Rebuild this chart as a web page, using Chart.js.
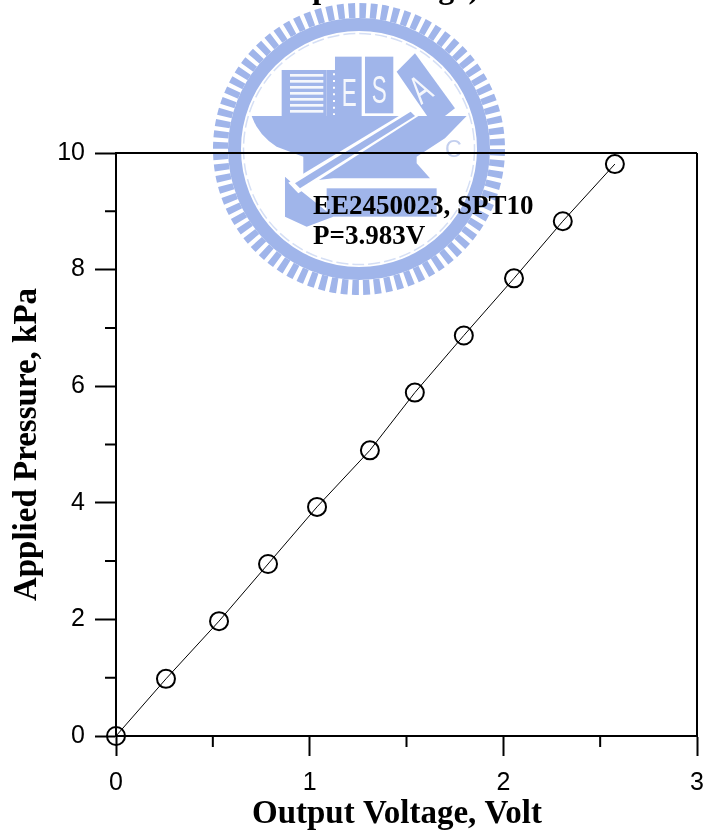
<!DOCTYPE html>
<html>
<head>
<meta charset="utf-8">
<style>
  html, body { margin: 0; padding: 0; background: #fff; overflow: hidden; }
  #wrap { position: relative; width: 706px; height: 834px; overflow: hidden; }
  #seal { position: absolute; left: 0; top: 0; filter: blur(0.5px); }
  #chart { position: absolute; left: 0; top: 0; }
</style>
<script src="https://cdn.jsdelivr.net/npm/chart.js@4/dist/chart.umd.min.js"></script>
</head>
<body>
<div id="wrap">
  <!-- 背景のウォーターマーク(校章) -->
  <svg id="seal" width="706" height="834" viewBox="0 0 706 834">
    <g fill="none" stroke="#a0b5ea">
      <circle cx="359" cy="149" r="138.5" stroke-width="15" stroke-dasharray="6.7 4.18"/>
      <circle cx="359" cy="149" r="124.5" stroke-width="13"/>
      <circle cx="359" cy="149" r="115.5" stroke-width="1.5" stroke="#d5dff5" stroke-dasharray="12 4"/>
    </g>
    <g transform="translate(200,0) scale(0.3333)" fill="#a0b5ea">
      <rect x="245" y="210" width="135" height="140"/>
      <g fill="#fff" opacity="0.9">
        <rect x="270" y="222" width="100" height="8"/>
        <rect x="270" y="240" width="100" height="8"/>
        <rect x="270" y="258" width="100" height="8"/>
        <rect x="270" y="276" width="100" height="8"/>
        <rect x="270" y="294" width="100" height="8"/>
        <rect x="270" y="312" width="100" height="8"/>
        <rect x="270" y="330" width="100" height="8"/>
      </g>
      <rect x="380" y="210" width="25" height="140"/>
      <line x1="402" y1="220" x2="402" y2="345" stroke="#fff" stroke-width="6" stroke-dasharray="6 14"/>
      <rect x="405" y="170" width="80" height="180"/>
      <rect x="495" y="170" width="85" height="170"/>
      <polygon points="590,215 645,160 765,325 700,375"/>
      <path d="M155,348 L800,348 L735,415 L650,470 L650,490 L690,535 L400,535 L310,545 L310,470 L230,440 Q175,405 155,348 Z"/>
      <polygon points="255,530 300,570 400,650 320,680 255,650"/>
      <rect x="380" y="565" width="330" height="85"/>
      <polygon points="640,322 660,345 295,580 265,548" fill="#fff"/>
      <polygon points="632,335 645,348 300,565 285,550"/>
      <g fill="#fff" font-family="'Liberation Sans'" font-size="118" opacity="0.9">
        <text x="425" y="318" textLength="45" lengthAdjust="spacingAndGlyphs">E</text>
        <text x="515" y="310" textLength="45" lengthAdjust="spacingAndGlyphs">S</text>
        <text x="645" y="305" transform="rotate(-35 670 280)" textLength="50" lengthAdjust="spacingAndGlyphs">A</text>
      </g>
      <text x="735" y="470" fill="#c3cfee" font-family="'Liberation Sans'" font-size="70">C</text>
    </g>
  </svg>
  <!-- 右余白が縮まらないのでcanvasを2px広げて右端を697に合わせる -->
  <canvas id="chart" width="708" height="834"></canvas>
</div>
<script>
// --- データ ---
const outputVoltage = [0, 0.258, 0.532, 0.785, 1.038, 1.311, 1.543, 1.796, 2.055, 2.307, 2.576];
const appliedPressure = [0, 0.98, 1.97, 2.95, 3.93, 4.90, 5.89, 6.87, 7.85, 8.83, 9.81];
const xMinorTicks = [0.5, 1.5, 2.5];
const yMinorTicks = [1, 3, 5, 7, 9];
const noteLines = ['EE2450023, SPT10', 'P=3.983V'];
const cutTitle = 'Output Voltage)';
const xAxisTitle = 'Output Voltage, Volt';

const SERIF = "'Liberation Serif'";
const SANS = "'Liberation Sans'";

// 枠線・副目盛・注記はプラグインで描く
const framePlugin = {
  id: 'frame',
  afterDatasetsDraw(chart) {
    const { ctx, chartArea: a, scales } = chart;
    ctx.save();
    ctx.strokeStyle = '#000';
    ctx.lineWidth = 2;
    ctx.beginPath();
    ctx.moveTo(a.left, a.top); ctx.lineTo(a.right, a.top);
    ctx.moveTo(a.right, a.top); ctx.lineTo(a.right, a.bottom);
    xMinorTicks.forEach(v => {
      const px = scales.x.getPixelForValue(v);
      ctx.moveTo(px, a.bottom); ctx.lineTo(px, a.bottom + 11);
    });
    yMinorTicks.forEach(v => {
      const py = scales.y.getPixelForValue(v);
      ctx.moveTo(a.left, py); ctx.lineTo(a.left - 11, py);
    });
    ctx.stroke();

    ctx.fillStyle = '#000';
    ctx.font = `bold 27px ${SERIF}`;
    ctx.fillText(noteLines[0], 313, 214);
    ctx.fillText(noteLines[1], 313, 244);

    // X軸タイトルは軸の中央より左寄りなので手で置く
    ctx.font = `bold 33px ${SERIF}`;
    ctx.fillText(xAxisTitle, 252, 823);

    // 上端で切れているタイトル
    ctx.font = `bold 32px ${SERIF}`;
    ctx.fillText(cutTitle, 259, -2);
    ctx.restore();
  }
};

new Chart(document.getElementById('chart'), {
  type: 'line',
  data: {
    labels: outputVoltage,
    datasets: [{
      data: outputVoltage.map((v, i) => ({ x: v, y: appliedPressure[i] })),
      borderColor: '#000',
      borderWidth: 1,
      tension: 0,
      pointRadius: 9,
      pointHoverRadius: 9,
      pointBorderWidth: 2,
      pointBorderColor: '#000',
      pointBackgroundColor: 'transparent',
      clip: false
    }]
  },
  options: {
    responsive: false,
    animation: false,
    layout: { padding: { top: 153, right: 7, bottom: 0, left: 0 } },
    plugins: { legend: { display: false }, title: { display: false }, tooltip: { enabled: false } },
    scales: {
      x: {
        type: 'linear',
        min: 0,
        max: 3,
        afterFit: scale => {
          scale.height = 98;
          scale.paddingLeft = 0;
          scale.paddingRight = 0;
        },
        grid: { drawOnChartArea: false, tickLength: 20, tickColor: '#000', tickWidth: 2 },
        border: { color: '#000', width: 2 },
        ticks: { stepSize: 1, color: '#000', maxRotation: 0, padding: 12, font: { family: SANS, size: 25 } }
      },
      y: {
        type: 'linear',
        min: 0,
        max: 10,
        afterFit: scale => { scale.width = 116; },
        grid: { drawOnChartArea: false, tickLength: 21, tickColor: '#000', tickWidth: 2 },
        border: { color: '#000', width: 2 },
        ticks: { stepSize: 2, color: '#000', padding: 10, font: { family: SANS, size: 25 } },
        title: { display: true, text: 'Applied Pressure, kPa', color: '#000', padding: { top: 8, bottom: 0 }, font: { family: SERIF, size: 33, weight: 'bold' } }
      }
    }
  },
  plugins: [framePlugin]
});
</script>
</body>
</html>
